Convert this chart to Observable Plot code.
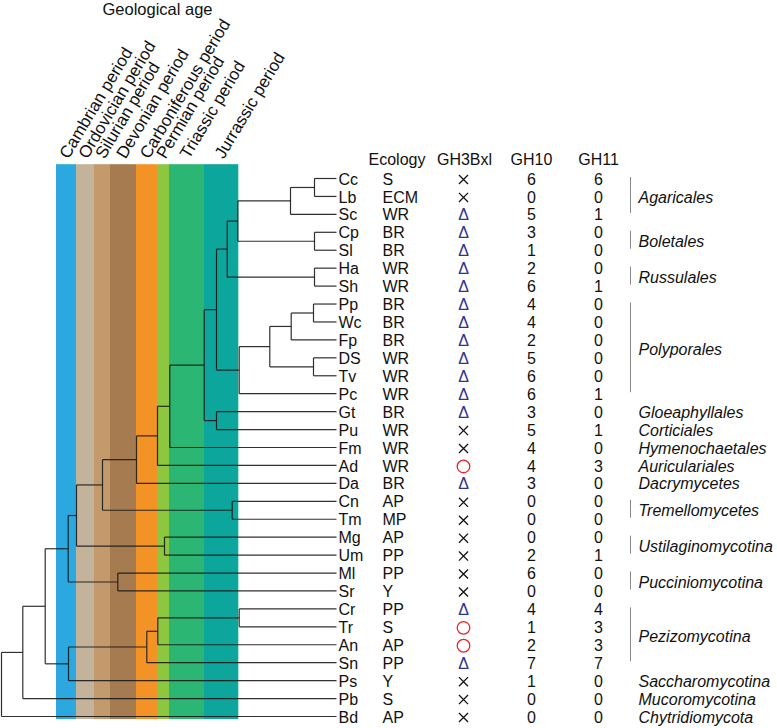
<!DOCTYPE html>
<html><head><meta charset="utf-8">
<script src="https://cdn.jsdelivr.net/npm/d3@7"></script>
<script src="https://cdn.jsdelivr.net/npm/@observablehq/plot@0.6"></script>
<style>body{margin:0;background:#fff}</style>
</head><body><div id="chart"></div>
<script>
// ---- data ----
const taxa    = ["Cc","Lb","Sc","Cp","Sl","Ha","Sh","Pp","Wc","Fp","DS","Tv","Pc","Gt","Pu","Fm","Ad","Da","Cn","Tm","Mg","Um","Ml","Sr","Cr","Tr","An","Sn","Ps","Pb","Bd"];
const ecology = ["S","ECM","WR","BR","BR","WR","WR","BR","BR","BR","WR","WR","WR","BR","WR","WR","WR","BR","AP","MP","AP","PP","PP","Y","PP","S","AP","PP","Y","S","AP"];
const gh3bxl  = ["x","x","d","d","d","d","d","d","d","d","d","d","d","d","x","x","o","d","x","x","x","x","x","x","d","o","o","d","x","x","x"];
const gh10    = [6,0,5,3,1,2,6,4,4,2,5,6,6,3,5,4,4,3,0,0,0,2,6,0,4,1,2,7,1,0,0];
const gh11    = [6,0,1,0,0,0,1,0,0,0,0,0,1,0,1,0,3,0,0,0,0,1,0,0,4,3,3,7,0,0,0];
const headers = ["Ecology","GH3Bxl","GH10","GH11"];

// internal nodes: [name, child A, child B, depth from root]
const internal = [
  ["CcLb","Cc","Lb",313],["CcLbSc","CcLb","Sc",289],["CpSl","Cp","Sl",313],
  ["AgBo","CcLbSc","CpSl",236.3],["HaSh","Ha","Sh",313],["AgBoRu","AgBo","HaSh",225.7],
  ["PpWc","Pp","Wc",312],["PpWcFp","PpWc","Fp",289.7],["DSTv","DS","Tv",312],
  ["Poly4","PpWcFp","DSTv",268.3],["Poly","Poly4","Pc",237.7],["C","AgBoRu","Poly",215],
  ["GtPu","Gt","Pu",215],["D","C","GtPu",202.7],["E","D","Fm",168.3],["F","E","Ad",156],
  ["G","F","Da",135],["CnTm","Cn","Tm",230.7],["H","G","CnTm",101],["MgUm","Mg","Um",163],
  ["I","H","MgUm",75],["MlSr","Ml","Sr",116.3],["J","I","MlSr",66.7],["CrTr","Cr","Tr",237.7],
  ["K","CrTr","An",156.3],["L","K","Sn",145.3],["M","L","Ps",67],["N","J","M",43.7],
  ["O","N","Pb",21.3],["root","O","Bd",0]
];
const tipDepth = 335;

const periods     = ["Cambrian period","Ordovician period","Silurian period","Devonian period","Carboniferous period","Permian period","Triassic period","Jurrassic period"];
const periodStart = [55,75,93,109,135,156,168,203];
const periodEnd   = [75,93,109,135,156,168,203,237.3];
const periodColor = ["#2ba8e0","#c3b39a","#c29a6b","#a67b50","#f39325","#8dc63f","#2cb673","#0ca69d"];

const groupNames = ["Agaricales","Boletales","Russulales","Polyporales","Gloeaphyllales","Corticiales","Hymenochaetales","Auriculariales","Dacrymycetes","Tremellomycetes","Ustilaginomycotina","Pucciniomycotina","Pezizomycotina","Saccharomycotina","Mucoromycotina","Chytridiomycota"];
const groupFirst = ["Cc","Cp","Ha","Pp","Gt","Pu","Fm","Ad","Da","Cn","Mg","Ml","Cr","Ps","Pb","Bd"];
const groupLast  = ["Sc","Sl","Sh","Pc","Gt","Pu","Fm","Ad","Da","Tm","Um","Sr","Sn","Ps","Pb","Bd"];

// ---- derived tables ----
const nodes = {};
taxa.forEach((t, i) => nodes[t] = {y: i, depth: tipDepth});
internal.forEach(([n, a, b, d]) => nodes[n] = {y: (nodes[a].y + nodes[b].y) / 2, depth: d});
const segs = [];
internal.forEach(([n, a, b, d]) => {
  segs.push({x1: d, x2: d, y1: nodes[a].y, y2: nodes[b].y});
  [a, b].forEach(c => segs.push({x1: d, x2: nodes[c].depth, y1: nodes[c].y, y2: nodes[c].y}));
});
const rows = taxa.map((t, i) => ({taxon: t, i, eco: ecology[i], sym: gh3bxl[i], gh10: gh10[i], gh11: gh11[i]}));
const bands = periods.map((p, i) => ({p, x1: periodStart[i], x2: periodEnd[i], color: periodColor[i]}));
const groups = groupNames.map((g, i) => ({g, y1: taxa.indexOf(groupFirst[i]), y2: taxa.indexOf(groupLast[i])}));
const brackets = groups.filter(g => g.y2 > g.y1);

const colDx = {leaf: 2, eco: 46, sym: 127, gh10: 195, gh11: 262, bracket: 294, group: 302};
const headerDx = [32, 128, 195, 262];
const bandTop = -0.77, bandBottom = 30.17;

const chart = Plot.plot({
  width: 777, height: 728,
  marginTop: 0, marginRight: 0, marginBottom: 0, marginLeft: 0,
  style: {fontFamily: "'Liberation Sans', Arial, Helvetica, sans-serif", background: "#fff"},
  x: {domain: [0, tipDepth], range: [1, 336], axis: null},
  y: {domain: [0, 30], range: [178, 716], axis: null},
  color: {type: "identity"},
  marks: [
    Plot.rect(bands, {x1: "x1", x2: "x2", y1: () => bandTop, y2: () => bandBottom, fill: "color"}),
    Plot.link(segs, {x1: "x1", x2: "x2", y1: "y1", y2: "y2", stroke: "#1a1a1a", strokeWidth: 1.2, strokeOpacity: 0.9}),
    Plot.text(bands, {x: d => (d.x1 + d.x2) / 2, y: () => bandTop, text: "p", rotate: -59, textAnchor: "start", lineAnchor: "bottom", fontSize: 17, dx: 2, dy: -5, fill: "#111"}),
    Plot.text(["Geological age"], {x: () => 156, frameAnchor: "top", lineAnchor: "top", dy: 3, text: d => d, fontSize: 16.5, fill: "#111"}),
    ...headers.map((h, i) => Plot.text([h], {x: () => tipDepth, y: () => -1, text: d => d, dx: headerDx[i], dy: -1, fontSize: 16, fill: "#111", textAnchor: i === 0 ? "start" : "middle"})),
    Plot.text(rows, {x: () => tipDepth, y: "i", text: "taxon", dx: colDx.leaf, dy: 1, textAnchor: "start", fontSize: 16, fill: "#111"}),
    Plot.text(rows, {x: () => tipDepth, y: "i", text: "eco", dx: colDx.eco, dy: 1, textAnchor: "start", fontSize: 16, fill: "#111"}),
    Plot.dot(rows.filter(r => r.sym === "x"), {x: () => tipDepth, y: "i", dx: colDx.sym, dy: 1, symbol: "times", r: 4.2, stroke: "#111", strokeWidth: 1.3}),
    Plot.text(rows.filter(r => r.sym === "d"), {x: () => tipDepth, y: "i", text: () => "Δ", dx: colDx.sym, dy: 1, fontSize: 16, fill: "#2e3192"}),
    Plot.dot(rows.filter(r => r.sym === "o"), {x: () => tipDepth, y: "i", dx: colDx.sym, dy: 1, r: 6.3, stroke: "#e8222a", strokeWidth: 1.3, fill: "none"}),
    Plot.text(rows, {x: () => tipDepth, y: "i", text: "gh10", dx: colDx.gh10, dy: 1, fontSize: 16, fill: "#111"}),
    Plot.text(rows, {x: () => tipDepth, y: "i", text: "gh11", dx: colDx.gh11, dy: 1, fontSize: 16, fill: "#111"}),
    Plot.ruleX(brackets, {x: () => tipDepth, y1: "y1", y2: "y2", dx: colDx.bracket, dy: -1, stroke: "#888", strokeWidth: 1}),
    Plot.text(groups, {x: () => tipDepth, y: d => (d.y1 + d.y2) / 2, text: "g", dx: colDx.group, dy: 1, textAnchor: "start", fontSize: 16, fontStyle: "italic", fill: "#111"})
  ]
});
document.getElementById("chart").appendChild(chart);
</script>
</body></html>
